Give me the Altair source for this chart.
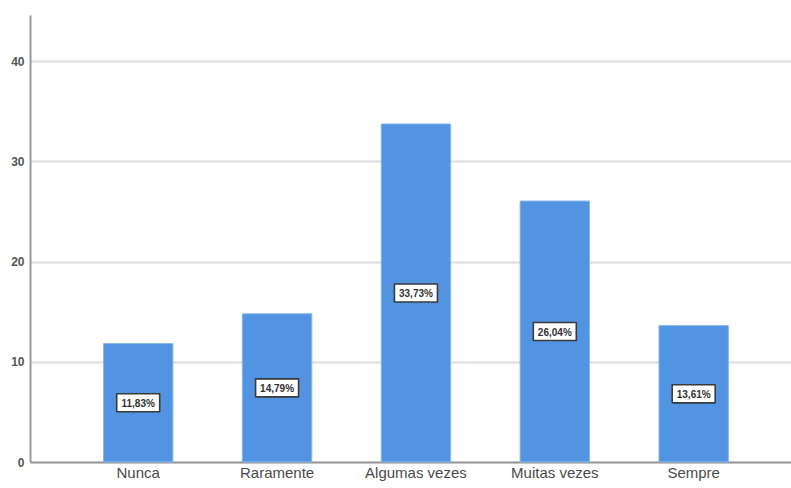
import altair as alt
import pandas as pd

categorias = ["Nunca", "Raramente", "Algumas vezes", "Muitas vezes", "Sempre"]
percentuais = [11.83, 14.79, 33.73, 26.04, 13.61]
rotulos = ["11,83%", "14,79%", "33,73%", "26,04%", "13,61%"]

df = pd.DataFrame({"categoria": categorias, "pct": percentuais, "rotulo": rotulos})
df["meio"] = df["pct"] / 2

FONT = "Liberation Sans"

x_enc = alt.X(
    "categoria:N",
    sort=categorias,
    title=None,
    scale=alt.Scale(paddingInner=0.5, paddingOuter=0.49, align=0.54),
    axis=alt.Axis(
        labelAngle=0, labelFont=FONT, labelFontSize=15, labelColor="#4a4a4a",
        labelPadding=3, ticks=False, domainColor="#9a9a9a", domainWidth=2,
        grid=False,
    ),
)

y_scale = alt.Scale(domain=[0, 44.6], nice=False, zero=True)

bars = alt.Chart(df).mark_bar(
    color="#5294e2", stroke="#8ab8ee", strokeWidth=1
).encode(
    x=x_enc,
    y=alt.Y(
        "pct:Q",
        title=None,
        scale=y_scale,
        axis=alt.Axis(
            values=[0, 10, 20, 30, 40], labelFont=FONT, labelFontSize=12,
            labelFontWeight="bold", labelColor="#555", labelPadding=6,
            ticks=False, domainColor="#9a9a9a", domainWidth=2,
            grid=True, gridColor="#dcdcdc", gridWidth=2,
        ),
    ),
)

# white label boxes centred on each bar's midpoint
caixa = "M -1 -0.42 L 1 -0.42 L 1 0.42 L -1 0.42 Z"
boxes = alt.Chart(df).mark_point(
    shape=caixa, size=1849, filled=True, fill="white", opacity=1,
    stroke="#3a3a3a", strokeWidth=1.6, strokeJoin="round",
).encode(
    x=alt.X("categoria:N", sort=categorias),
    y=alt.Y("meio:Q", scale=y_scale),
)

texts = alt.Chart(df).mark_text(
    font=FONT, fontSize=10, fontWeight="bold", color="#333",
    align="center", baseline="middle", dy=1,
).encode(
    x=alt.X("categoria:N", sort=categorias),
    y=alt.Y("meio:Q", scale=y_scale),
    text="rotulo:N",
)

chart = alt.layer(bars, boxes, texts).properties(
    width=761,
    height=447,
    autosize=alt.AutoSizeParams(type="none"),
    padding={"left": 30, "top": 15, "right": 0, "bottom": 26},
    background="white",
).configure_view(stroke=None)

chart.save("out.html", embed_options={"renderer": "svg", "actions": False})
